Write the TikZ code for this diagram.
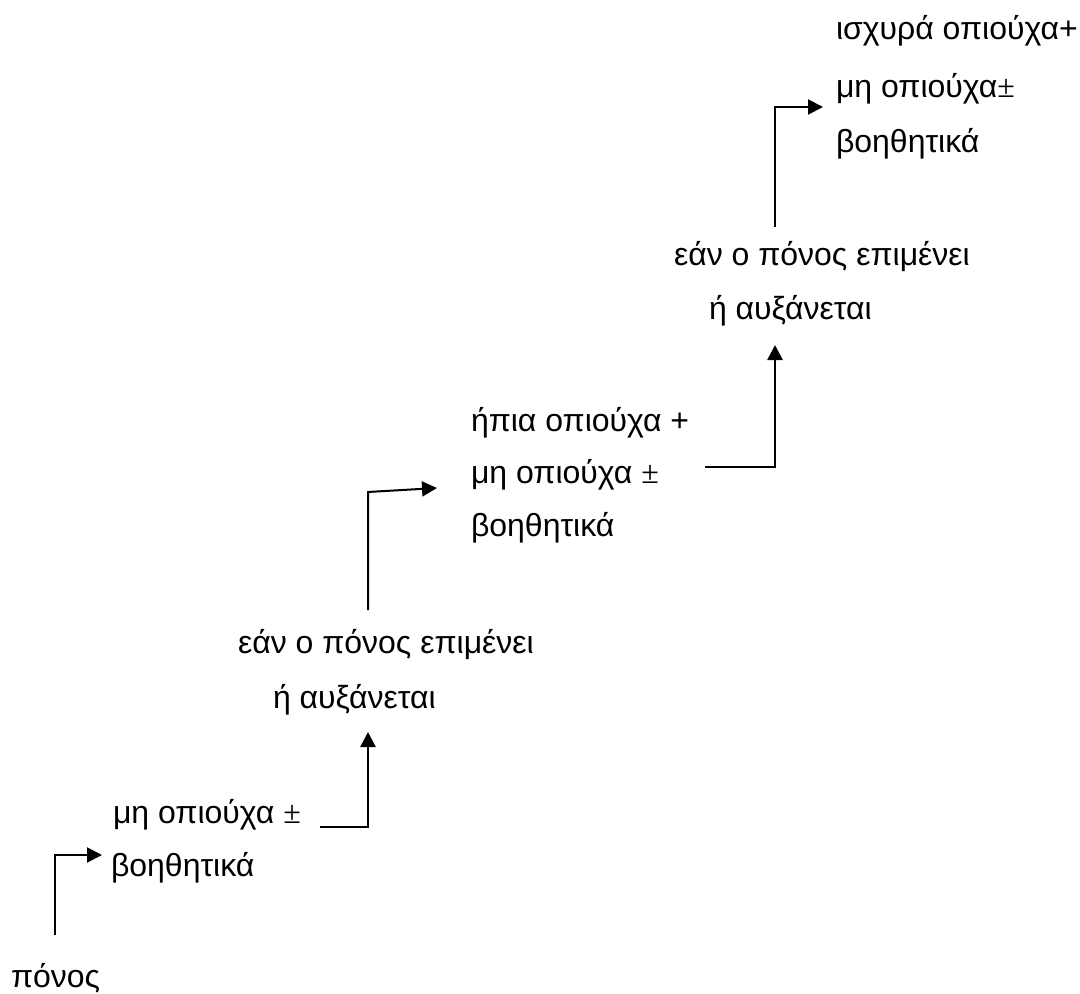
\documentclass[tikz,border=0pt]{standalone}
\usepackage{fontspec}
\setmainfont{Liberation Sans}
\newfontfamily\pmfont{Liberation Serif}
\usetikzlibrary{arrows.meta}
\newcommand{\pmsign}{{\pmfont ±}}

\begin{document}
\begin{tikzpicture}[x=0.5pt,y=-0.5pt,>={Triangle[length=7.5pt,width=7.5pt]},line width=1pt,
  txt/.style={anchor=base west,inner sep=0pt,font=\fontsize{16}{19}\selectfont},
  feed/.style={line width=1.3pt}]
\useasboundingbox (0,0) rectangle (1080,994);
% the steps
\node[txt] (pain) at (10,987) {πόνος};
\node[txt] (weak1) at (112,823) {μη οπιούχα \pmsign};
\node[txt] (weak2) at (110,876) {βοηθητικά};
\node[txt] (per1a) at (237,653) {εάν ο πόνος επιμένει};
\node[txt] (per1b) at (272,708) {ή αυξάνεται};
\node[txt] (mild1) at (470,431) {ήπια οπιούχα +};
\node[txt] (mild2) at (470,483) {μη οπιούχα \pmsign};
\node[txt] (mild3) at (470,536) {βοηθητικά};
\node[txt] (per2a) at (673,266) {εάν ο πόνος επιμένει};
\node[txt] (per2b) at (708,320) {ή αυξάνεται};
\node[txt] (str1) at (835,40) {ισχυρά οπιούχα+};
\node[txt] (str2) at (835,98) {μη οπιούχα\pmsign};
\node[txt] (str3) at (835,153) {βοηθητικά};
% arrows between the steps
\coordinate (s0) at (55,935);
\coordinate (t0) at (102,855);
\coordinate (s1) at (320,827);
\coordinate (t1) at (368,732);
\coordinate (s2) at (368,610);
\coordinate (k2) at (368,492);
\coordinate (t2) at (437,488);
\coordinate (s3) at (705,467);
\coordinate (t3) at (775,345);
\coordinate (s4) at (775,227);
\coordinate (t4) at (823,107);
\draw[->] (s0) |- (t0);
\draw[->,feed] (s1) -| (t1);
\draw[->] (s2) -- (k2) -- (t2);
\draw[->,feed] (s3) -| (t3);
\draw[->] (s4) |- (t4);
\end{tikzpicture}
\end{document}
